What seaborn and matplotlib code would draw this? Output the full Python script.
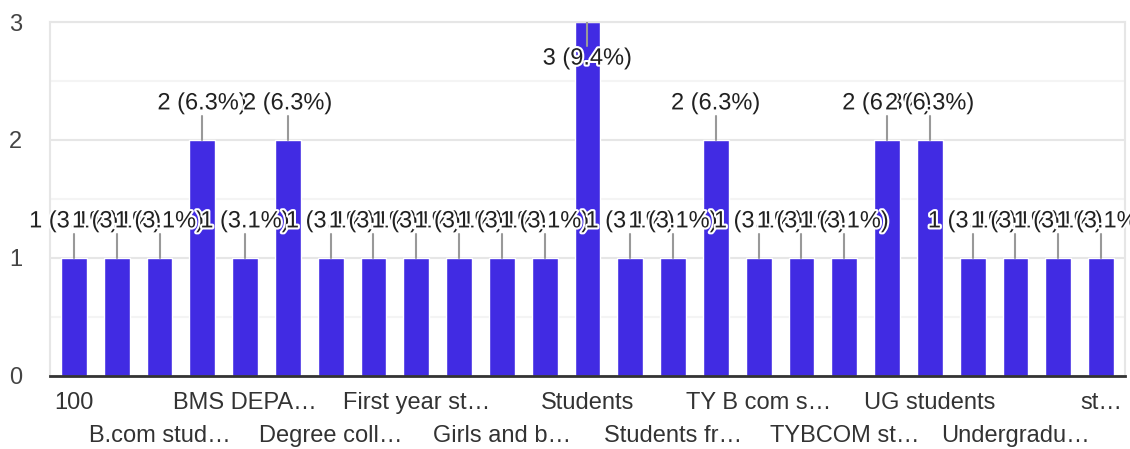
import numpy as np
import pandas as pd
import matplotlib
matplotlib.use("Agg")
import matplotlib.pyplot as plt
import matplotlib.patheffects as pe
import seaborn as sns

# answers (sorted as in the form summary); only every other name is shown on the axis
categories = ["100", "Accounting students", "B.com stud…", "BAF students", "BMS DEPA…",
              "College students", "Degree coll…", "Degree students", "First year st…",
              "Girls", "Girls and b…", "Graduates", "Students", "Students and teachers",
              "Students fr…", "TY B com", "TY B com s…", "TYBAF students", "TYBCOM st…",
              "TYBMS students", "UG students", "UG students of commerce", "Undergradu…",
              "Youth", "st…"]
counts = [1, 1, 1, 2, 1, 2, 1, 1, 1, 1, 1, 1, 3, 1, 1, 2, 1, 1, 1, 2, 2, 1, 1, 1, 1]
total = 32

sns.set_theme(style="white")
plt.rcParams['font.family'] = ['Liberation Sans', 'DejaVu Sans']

df = pd.DataFrame({"answer": categories, "count": counts})

fig = plt.figure(figsize=(11.3, 4.49), dpi=100)
ax = fig.add_axes([0.0442, 0.1626, 0.9514, 0.7884])

sns.barplot(data=df, x="answer", y="count", color="#412be3", width=0.6,
            saturation=1, ax=ax, zorder=2)

ax.set_ylim(0, 3)
ax.set_xlim(-0.56, len(categories) - 0.44)
ax.set_yticks([0, 1, 2, 3])
ax.set_yticks([0.5, 1.5, 2.5], minor=True)
ax.grid(axis="y", which="major", color="#e6e6e6", linewidth=1.5, zorder=0)
ax.grid(axis="y", which="minor", color="#f4f4f4", linewidth=1.5, zorder=0)
ax.tick_params(axis="y", which="both", length=0, pad=20, labelsize=17, labelcolor="#444444")
ax.set_xlabel("")
ax.set_ylabel("")

for s in ["top", "right", "left"]:
    ax.spines[s].set_color("#e6e6e6")
    ax.spines[s].set_linewidth(1.5)
ax.spines["bottom"].set_color("#333333")
ax.spines["bottom"].set_linewidth(2)

# x tick labels: every other answer, alternating two rows
ax.set_xticks([])
for i, name in enumerate(categories):
    if i % 2:
        continue
    row = (i // 2) % 2
    ax.annotate(name, xy=(i, 0), xycoords=("data", "axes fraction"),
                xytext=(0, -27 - 33 * row), textcoords="offset pixels",
                ha="center", va="center", fontsize=17, color="#333333")

# value labels with stems
halo = [pe.withStroke(linewidth=3, foreground="white")]
for i, v in enumerate(counts):
    pct = round(v / total * 100 + 1e-9, 1)
    label = f"{v} ({pct}%)"
    if v + 0.32 <= 3:
        ax.plot([i, i], [v, v + 0.2], color="#999999", linewidth=1.5, zorder=3)
        ty = v + 0.31
    else:
        ax.plot([i, i], [v, v - 0.2], color="#999999", linewidth=1.5, zorder=3)
        ty = v - 0.31
    ax.text(i, ty, label, ha="center", va="center", fontsize=17, color="#212121",
            path_effects=halo, zorder=4)

fig.savefig("out.png", dpi=100)
